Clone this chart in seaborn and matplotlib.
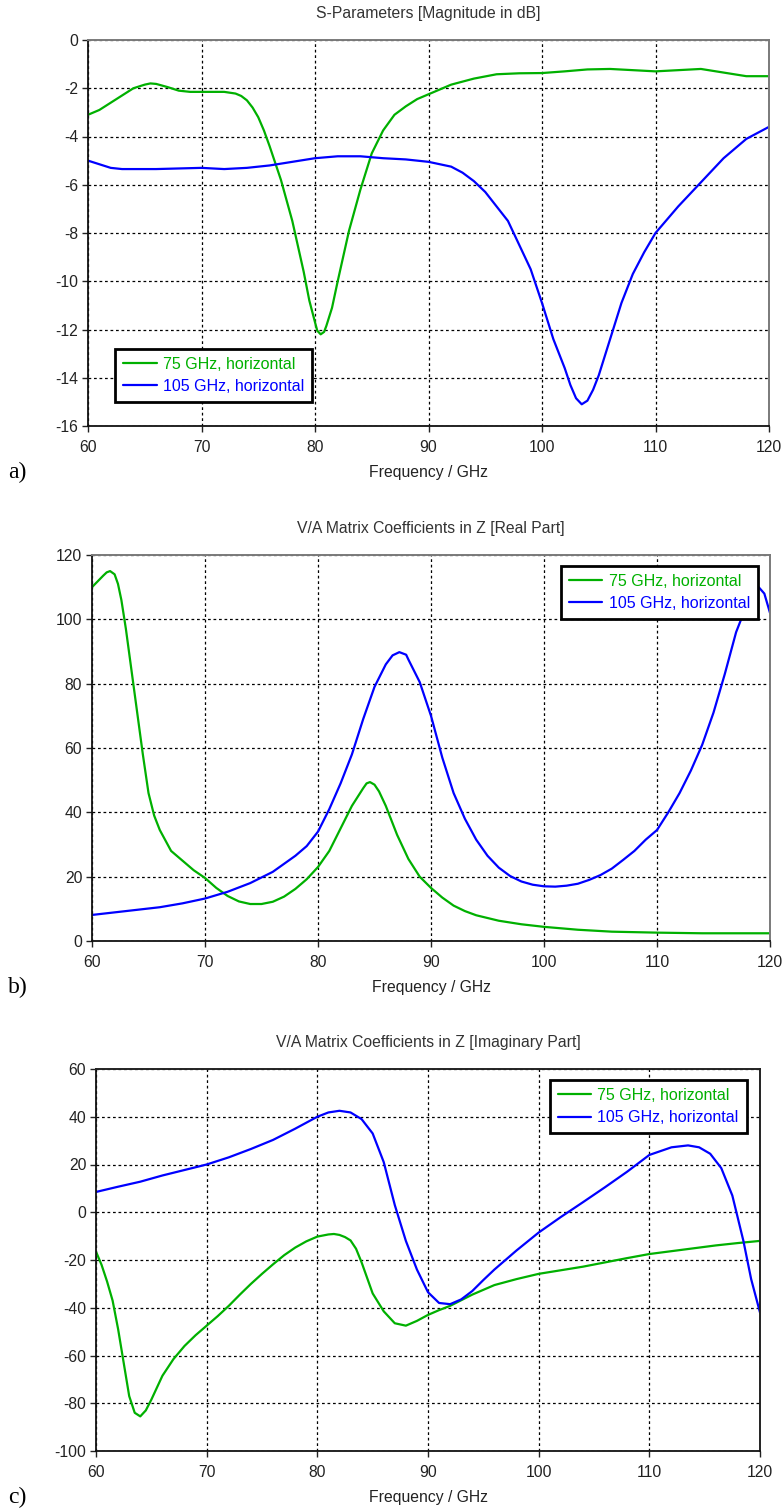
import numpy as np
import pandas as pd
import matplotlib
matplotlib.use("Agg")
import matplotlib.pyplot as plt
import seaborn as sns

# Data (frequency in GHz)
LBL_75 = "75 GHz, horizontal"
LBL_105 = "105 GHz, horizontal"

# a) S-parameters, magnitude in dB
s75_f = [60, 61, 62, 63, 64, 65, 65.5, 66, 67, 68, 69, 70, 71, 72, 73, 73.5, 74, 74.5, 75, 75.5, 76, 77,
         78, 79, 79.5, 80, 80.2, 80.5, 80.8, 81, 81.5, 82, 83, 84, 85, 86, 87, 88, 89, 90, 92, 94, 96, 98,
         100, 102, 104, 106, 108, 110, 112, 114, 116, 118, 120]
s75_db = [-3.1, -2.9, -2.6, -2.3, -2.0, -1.85, -1.8, -1.82, -1.95, -2.1, -2.15, -2.15, -2.15, -2.15, -2.22,
          -2.32, -2.5, -2.8, -3.2, -3.75, -4.4, -5.8, -7.5, -9.6, -10.8, -11.7, -12.05, -12.2, -12.1,
          -11.85, -11.1, -10.0, -7.9, -6.2, -4.7, -3.75, -3.1, -2.75, -2.45, -2.25, -1.85, -1.6, -1.42,
          -1.38, -1.37, -1.3, -1.22, -1.2, -1.25, -1.3, -1.25, -1.2, -1.35, -1.5, -1.5]
s105_f = [60, 61, 62, 63, 66, 70, 72, 74, 76, 78, 80, 82, 84, 86, 88, 90, 92, 93, 94, 95, 96, 97, 98, 99,
          100, 101, 102, 102.5, 103, 103.5, 104, 104.5, 105, 106, 107, 108, 109, 110, 112, 114, 116, 118,
          120]
s105_db = [-5.0, -5.15, -5.3, -5.35, -5.35, -5.3, -5.35, -5.3, -5.2, -5.05, -4.9, -4.82, -4.82, -4.9,
           -4.95, -5.05, -5.25, -5.5, -5.85, -6.3, -6.9, -7.5, -8.5, -9.5, -10.9, -12.4, -13.6, -14.3,
           -14.85, -15.1, -14.95, -14.5, -13.9, -12.4, -10.9, -9.7, -8.8, -8.0, -6.9, -5.9, -4.9, -4.1,
           -3.6]

# b) V/A matrix coefficients in Z, real part
re75_f = [60, 60.5, 61, 61.3, 61.6, 62, 62.3, 62.6, 63, 63.5, 64, 64.5, 65, 65.5, 66, 67, 68, 69, 70, 71,
          72, 73, 74, 75, 76, 77, 78, 79, 80, 81, 82, 83, 84, 84.3, 84.6, 85, 85.4, 86, 87, 88, 89, 90, 91,
          92, 93, 94, 96, 98, 100, 103, 106, 110, 114, 120]
re75 = [110, 111.8, 113.6, 114.6, 115, 114, 111, 106, 97, 84, 71, 58, 46, 39, 34.5, 28, 25, 22, 19.6,
        16.5, 14, 12.3, 11.5, 11.5, 12.2, 13.8, 16.2, 19.2, 23, 28, 35, 42, 47.5, 49, 49.4, 48.6, 46.5,
        42, 33, 25.5, 20, 16.5, 13.5, 11, 9.3, 8, 6.3, 5.2, 4.4, 3.5, 2.9, 2.6, 2.4, 2.4]
re105_f = [60, 62, 64, 66, 68, 70, 72, 74, 76, 78, 79, 80, 81, 82, 83, 84, 85, 86, 86.6, 87.2, 87.8, 88,
           89, 90, 91, 92, 93, 94, 95, 96, 97, 98, 99, 100, 101, 102, 103, 104, 105, 106, 107, 108, 109,
           110, 111, 112, 113, 114, 115, 116, 117, 118, 119, 119.5, 120]
re105 = [8.1, 8.9, 9.7, 10.5, 11.7, 13.2, 15.3, 18, 21.5, 26.5, 29.5, 34, 41, 49, 58, 69, 79, 86, 88.8,
         89.8, 89, 87.5, 80.5, 70, 57, 46, 38, 31.5, 26.5, 22.8, 20.2, 18.5, 17.5, 17, 16.9, 17.2, 17.8,
         19, 20.5, 22.5, 25.2, 28, 31.5, 34.5, 40, 46, 53, 61, 71, 83, 96, 105, 110, 108, 102]

# c) V/A matrix coefficients in Z, imaginary part
im75_f = [60, 60.5, 61, 61.5, 62, 62.5, 63, 63.5, 64, 64.5, 65, 66, 67, 68, 69, 70, 71, 72, 73, 74, 75,
          76, 77, 78, 79, 80, 81, 81.5, 82, 82.5, 83, 83.5, 84, 84.5, 85, 86, 87, 88, 89, 90, 91, 92, 94,
          96, 98, 100, 102, 104, 106, 108, 110, 112, 114, 116, 118, 120]
im75 = [-16.5, -22, -29, -37, -49, -63, -77, -84, -85.5, -83, -78.5, -68.5, -61.5, -56, -51.5, -47.5,
        -43.5, -39.2, -34.5, -30, -25.8, -21.8, -18, -14.8, -12.2, -10.2, -9.3, -9.1, -9.5, -10.4, -11.8,
        -15.3, -21, -27.5, -34, -41.5, -46.5, -47.5, -45.5, -43, -41, -39.2, -34.5, -30.5, -28, -25.8,
        -24.3, -22.8, -21, -19.2, -17.5, -16.3, -15.1, -13.9, -12.9, -12]
im105_f = [60, 62, 64, 66, 68, 70, 72, 74, 76, 78, 79, 80, 81, 82, 83, 84, 85, 86, 87, 88, 89, 90, 91, 92,
           93, 94, 95, 96, 98, 100, 102, 104, 106, 108, 110, 112, 113.5, 114.5, 115.5, 116.5, 117.5,
           118.5, 119.2, 120]
im105 = [8.5, 10.7, 12.8, 15.4, 17.7, 20, 23, 26.5, 30.3, 35, 37.5, 40, 41.8, 42.5, 41.8, 39, 33, 21, 3,
         -12, -24, -33.5, -38, -38.5, -36.5, -33, -28.4, -24, -16, -8.5, -2, 4.2, 10.5, 17, 24, 27.2, 28,
         27.2, 24.5, 18.5, 7, -12, -28, -42]

panels = [
    dict(tag="a)", title="S-Parameters [Magnitude in dB]",
         s75=(s75_f, s75_db), s105=(s105_f, s105_db),
         ylim=(-16, 0), yticks=np.arange(-16, 1, 2),
         rect=(88, 40, 769, 426), leg=("upper left", (0.040, 0.20)), spine="#7a7a7a"),
    dict(tag="b)", title="V/A Matrix Coefficients in Z [Real Part]",
         s75=(re75_f, re75), s105=(re105_f, re105),
         ylim=(0, 120), yticks=np.arange(0, 121, 20),
         rect=(92, 555, 770, 941), leg=("upper right", (0.982, 0.972)), spine="#7a7a7a"),
    dict(tag="c)", title="V/A Matrix Coefficients in Z [Imaginary Part]",
         s75=(im75_f, im75), s105=(im105_f, im105),
         ylim=(-100, 60), yticks=np.arange(-100, 61, 20),
         rect=(96, 1069, 760, 1451), leg=("upper right", (0.980, 0.971)), spine="#222222"),
]

GREEN = "#00b000"
BLUE = "#0000ff"

sns.set_theme(style="white")
plt.rcParams["font.family"] = ["Liberation Sans", "DejaVu Sans"]
plt.rcParams["axes.unicode_minus"] = False

W, H = 784, 1511
fig = plt.figure(figsize=(W / 100, H / 100), dpi=100)

for p in panels:
    x0, y0, x1, y1 = p["rect"]
    ax = fig.add_axes([x0 / W, 1 - y1 / H, (x1 - x0) / W, (y1 - y0) / H])

    df = pd.concat([
        pd.DataFrame({"f": p["s75"][0], "v": p["s75"][1], "series": LBL_75}),
        pd.DataFrame({"f": p["s105"][0], "v": p["s105"][1], "series": LBL_105}),
    ])
    sns.lineplot(data=df, x="f", y="v", hue="series", palette=[GREEN, BLUE],
                 linewidth=1.6, ax=ax, sort=False, estimator=None)

    ax.set_xlim(60, 120)
    ax.set_ylim(*p["ylim"])
    ax.set_xticks(np.arange(60, 121, 10))
    ax.set_yticks(p["yticks"])
    ax.grid(True, color="black", linestyle=(0, (2.2, 2.2)), linewidth=0.9)
    ax.tick_params(axis="both", direction="out", length=4, width=1, colors="#222222",
                   labelsize=11.3, bottom=True, left=True)
    ax.tick_params(axis="x", pad=6)
    ax.tick_params(axis="y", pad=3)
    for s in ["left", "bottom"]:
        ax.spines[s].set_color("#111111")
        ax.spines[s].set_linewidth(1.3)
    for s in ["top", "right"]:
        ax.spines[s].set_color(p["spine"])
        ax.spines[s].set_linewidth(1.4)

    ax.set_title(p["title"], fontsize=11.3, color="#333333", pad=16)
    ax.set_xlabel("Frequency / GHz", fontsize=11.3, color="#222222", labelpad=7)
    ax.set_ylabel("")

    loc, anchor = p["leg"]
    leg = ax.legend(loc=loc, bbox_to_anchor=anchor, borderaxespad=0, fontsize=11.5,
                    fancybox=False, edgecolor="black", framealpha=1, labelcolor="linecolor",
                    handlelength=2.1, borderpad=0.5, labelspacing=0.45, handletextpad=0.4)
    leg.get_frame().set_linewidth(2)

    # panel letter in serif, like the paper figure
    fig.text(8 / W, 1 - (y1 + 46) / H, p["tag"], family="Liberation Serif", fontsize=17,
             ha="left", va="center", color="black")

fig.savefig("out.png", dpi=100)
